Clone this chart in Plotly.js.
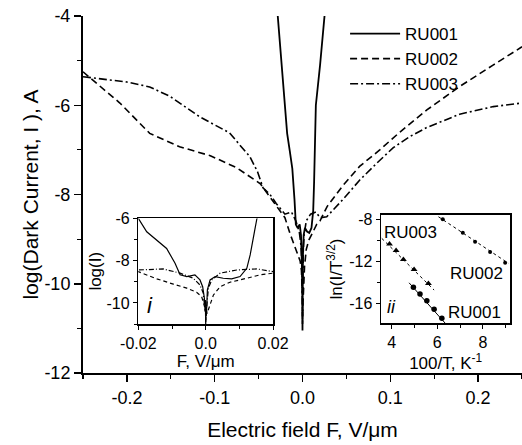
<!DOCTYPE html>
<html>
<head>
<meta charset="utf-8">
<script src="https://cdn.plot.ly/plotly-3.0.1.min.js"></script>
<style>html,body{margin:0;padding:0;background:#fff;}#chart{width:522px;height:445px;}</style>
</head>
<body>
<div id="chart"></div>
<script>
// ---- Main panel data: log(Dark current) vs electric field F (V/um)
const seriesNames = ["RU001", "RU002", "RU003"];

const F_RU001 = [-0.029, -0.024, -0.020, -0.0175, -0.0145, -0.0116, -0.0091, -0.0076, -0.0056, -0.0032, -0.0017, -0.0009, -0.0004, -0.0002, -0.0001, 0.0, 0.0001, 0.0002, 0.0003, 0.0005, 0.0013, 0.0028, 0.0052, 0.0077, 0.0102, 0.0122, 0.0132, 0.0142, 0.0152, 0.020, 0.026];
const L_RU001 = [-3.8, -5.0, -6.0, -6.63, -7.02, -7.42, -8.12, -8.67, -8.75, -8.67, -8.91, -9.23, -9.77, -10.3, -9.9, -11.05, -10.2, -10.6, -9.9, -9.38, -8.91, -8.75, -8.83, -8.86, -8.75, -8.36, -7.73, -6.94, -6.0, -5.1, -3.8];

const F_RU002 = [-0.25, -0.208, -0.174, -0.140, -0.105, -0.075, -0.048, -0.035, -0.02, -0.0145, -0.0096, -0.0056, -0.0027, -0.0012, -0.0003, -0.0001, 0.0, 0.0002, 0.0004, 0.0013, 0.0023, 0.0043, 0.0072, 0.0122, 0.0161, 0.02, 0.028, 0.046, 0.065, 0.088, 0.111, 0.142, 0.179, 0.217, 0.25];
const L_RU002 = [-5.25, -5.95, -6.63, -6.93, -7.13, -7.4, -7.76, -8.1, -8.52, -8.86, -9.11, -9.30, -9.49, -9.70, -10.2, -9.8, -10.9, -10.3, -10.5, -10.09, -9.62, -9.23, -9.02, -8.83, -8.67, -8.59, -8.27, -7.8, -7.37, -7.0, -6.6, -6.1, -5.58, -5.1, -4.69];

const F_RU003 = [-0.25, -0.2, -0.174, -0.151, -0.117, -0.083, -0.071, -0.06, -0.051, -0.045, -0.037, -0.03, -0.02, -0.0126, -0.0076, -0.0037, -0.0017, -0.0007, -0.0002, -0.0001, 0.0, 0.0001, 0.0003, 0.0008, 0.0018, 0.0043, 0.0092, 0.0152, 0.02, 0.0276, 0.0465, 0.0655, 0.0845, 0.1034, 0.1224, 0.1414, 0.179, 0.2173, 0.25];
const L_RU003 = [-5.36, -5.48, -5.59, -5.8, -6.26, -6.62, -6.9, -7.15, -7.5, -7.85, -8.0, -8.2, -8.44, -8.39, -8.59, -8.83, -9.15, -9.54, -10.4, -9.9, -10.8, -10.1, -10.2, -9.30, -8.91, -8.59, -8.44, -8.39, -8.52, -8.5, -8.1, -7.67, -7.3, -6.95, -6.7, -6.5, -6.2, -6.03, -5.95];

// ---- Inset ii: ln(I/T^3/2) vs 100/T
const invT_RU001 = [4.95, 5.24, 5.54, 5.86, 6.2];
const ln_RU001 = [-14.5, -15.14, -15.78, -16.6, -17.45];
const fitX_RU001 = [4.76, 6.34];
const fitY_RU001 = [-14.07, -17.9];

const invT_RU002 = [6.24, 7.12, 7.66, 8.32, 8.98];
const ln_RU002 = [-8.03, -9.3, -10.16, -11.14, -12.16];
const fitX_RU002 = [6.05, 9.13];
const fitY_RU002 = [-7.78, -12.22];

const invT_RU003 = [3.9, 4.19, 4.51, 4.98, 5.61];
const ln_RU003 = [-10.38, -11.0, -11.84, -12.8, -14.13];
const fitX_RU003 = [3.56, 5.86];
const fitY_RU003 = [-9.84, -14.76];

// ---- Tick labels
const mainXTicks = [-0.2, -0.1, 0.0, 0.1, 0.2];
const mainXText = ["-0.2", "-0.1", "0.0", "0.1", "0.2"];
const mainYTicks = [-12, -10, -8, -6, -4];
const mainYText = ["-12", "-10", "-8", "-6", "-4"];
const insetIXTicks = [-0.02, 0.0, 0.02];
const insetIXText = ["-0.02", "0.0", "0.02"];
const insetIYTicks = [-10, -8, -6];
const insetIYText = ["-10", "-8", "-6"];
const insetIIXTicks = [4, 6, 8];
const insetIIXText = ["4", "6", "8"];
const insetIIYTicks = [-16, -12, -8];
const insetIIYText = ["-16", "-12", "-8"];

const FONT = "Liberation Sans, Arial, Helvetica, sans-serif";
const K = "#000";

const styles = [
  {color: K, width: 1.8, dash: "solid"},
  {color: K, width: 1.6, dash: "7px,4px"},
  {color: K, width: 1.6, dash: "8px,3px,2px,3px"}
];
const mainF = [F_RU001, F_RU002, F_RU003];
const mainL = [L_RU001, L_RU002, L_RU003];

const traces = [];
for (let i = 0; i < 3; i++) {
  traces.push({x: mainF[i], y: mainL[i], type: "scatter", mode: "lines", name: seriesNames[i],
    line: Object.assign({}, styles[i]), xaxis: "x", yaxis: "y", showlegend: true});
}
for (let i = 0; i < 3; i++) {
  traces.push({x: mainF[i], y: mainL[i], type: "scatter", mode: "lines", name: seriesNames[i],
    line: {color: K, width: 1.2, dash: styles[i].dash === "solid" ? "solid" : (i === 1 ? "4px,3px" : "5px,2px,1px,2px")},
    xaxis: "x2", yaxis: "y2", showlegend: false});
}
// inset ii
traces.push({x: fitX_RU001, y: fitY_RU001, mode: "lines", line: {color: K, width: 1}, xaxis: "x3", yaxis: "y3", showlegend: false});
traces.push({x: fitX_RU002, y: fitY_RU002, mode: "lines", line: {color: K, width: 1, dash: "dot"}, xaxis: "x3", yaxis: "y3", showlegend: false});
traces.push({x: fitX_RU003, y: fitY_RU003, mode: "lines", line: {color: K, width: 1, dash: "dot"}, xaxis: "x3", yaxis: "y3", showlegend: false});
traces.push({x: invT_RU001, y: ln_RU001, mode: "markers", marker: {symbol: "circle", size: 5.5, color: K}, xaxis: "x3", yaxis: "y3", showlegend: false});
traces.push({x: invT_RU002, y: ln_RU002, mode: "markers", marker: {symbol: "circle", size: 4, color: K}, xaxis: "x3", yaxis: "y3", showlegend: false});
traces.push({x: invT_RU003, y: ln_RU003, mode: "markers", marker: {symbol: "triangle-up", size: 6, color: K}, xaxis: "x3", yaxis: "y3", showlegend: false});

function axisBase(extra) {
  return Object.assign({
    showgrid: false, zeroline: false, showline: true, linecolor: K, ticks: "outside",
    tickcolor: K, tickfont: {family: FONT, size: 16, color: K}, tickmode: "array"
  }, extra);
}

const layout = {
  width: 522, height: 445,
  margin: {l: 83, r: 0, t: 16, b: 72},
  paper_bgcolor: "#fff", plot_bgcolor: "#fff",
  font: {family: FONT, color: K},
  showlegend: true,
  legend: {x: 0.597, y: 1.0, xanchor: "left", yanchor: "top", bgcolor: "rgba(0,0,0,0)",
    font: {family: FONT, size: 17, color: K}, itemwidth: 50, tracegroupgap: 0},
  xaxis: axisBase({domain: [0, 1], range: [-0.25, 0.25], linewidth: 2, tickwidth: 1.5, ticklen: 7,
    tickvals: mainXTicks, ticktext: mainXText, tickfont: {family: FONT, size: 18, color: K},
    minor: {ticks: "outside", tickmode: "array", tickvals: [-0.25, -0.15, -0.05, 0.05, 0.15, 0.25], ticklen: 4, tickwidth: 1.2, tickcolor: K},
    mirror: false, anchor: "y",
    title: {text: "Electric field F, V/\u03bcm", font: {family: FONT, size: 21, color: K}, standoff: 16}}),
  yaxis: axisBase({domain: [0, 1], range: [-12, -4], linewidth: 2, tickwidth: 1.5, ticklen: 7,
    tickvals: mainYTicks, ticktext: mainYText, tickfont: {family: FONT, size: 18, color: K},
    minor: {ticks: "outside", tickmode: "array", tickvals: [-11, -9, -7, -5], ticklen: 4, tickwidth: 1.2, tickcolor: K},
    anchor: "x",
    title: {text: "log(Dark Current, I ), A", font: {family: FONT, size: 21, color: K}, standoff: 0}}),
  xaxis2: axisBase({domain: [0.126, 0.433], range: [-0.02, 0.02], linewidth: 1.5, tickwidth: 1, ticklen: 4,
    tickvals: insetIXTicks, ticktext: insetIXText, mirror: true, anchor: "y2",
    minor: {ticks: "outside", tickmode: "array", tickvals: [-0.01, 0.01], ticklen: 3, tickwidth: 1, tickcolor: K},
    title: {text: "F, V/\u03bcm", font: {family: FONT, size: 17, color: K}, standoff: 2}}),
  yaxis2: axisBase({domain: [0.137, 0.433], range: [-11, -6], linewidth: 1.5, tickwidth: 1, ticklen: 4,
    tickvals: insetIYTicks, ticktext: insetIYText, mirror: true, anchor: "x2",
    minor: {ticks: "outside", tickmode: "array", tickvals: [-11, -9, -7], ticklen: 3, tickwidth: 1, tickcolor: K},
    title: {text: "log(I)", font: {family: FONT, size: 17, color: K}, standoff: 0}}),
  xaxis3: axisBase({domain: [0.679, 0.973], range: [3.53, 9.2], linewidth: 1.5, tickwidth: 1, ticklen: 4,
    tickvals: insetIIXTicks, ticktext: insetIIXText, mirror: true, anchor: "y3",
    minor: {ticks: "outside", tickmode: "array", tickvals: [5, 7, 9], ticklen: 3, tickwidth: 1, tickcolor: K},
    title: {text: "100/T, K<sup>-1</sup>", font: {family: FONT, size: 17, color: K}, standoff: 2}}),
  yaxis3: axisBase({domain: [0.14, 0.443], range: [-17.9, -7.6], linewidth: 1.5, tickwidth: 1, ticklen: 4,
    tickvals: insetIIYTicks, ticktext: insetIIYText, mirror: true, anchor: "x3",
    minor: {ticks: "outside", tickmode: "array", tickvals: [-14, -10], ticklen: 3, tickwidth: 1, tickcolor: K},
    title: {text: "ln(I/T<sup>3/2</sup>)", font: {family: FONT, size: 17, color: K}, standoff: 2}}),
  annotations: [
    {xref: "x2", yref: "y2", x: -0.0165, y: -10.1, text: "<i>i</i>", showarrow: false, font: {family: FONT, size: 22, color: K}},
    {xref: "x3", yref: "y3", x: 4.0, y: -16.4, text: "<i>ii</i>", showarrow: false, font: {family: FONT, size: 18, color: K}},
    {xref: "x3", yref: "y3", x: 3.58, y: -9.3, xanchor: "left", text: "RU003", showarrow: false, font: {family: FONT, size: 17, color: K}},
    {xref: "x3", yref: "y3", x: 6.47, y: -13.14, xanchor: "left", text: "RU002", showarrow: false, font: {family: FONT, size: 17, color: K}},
    {xref: "x3", yref: "y3", x: 6.39, y: -16.86, xanchor: "left", text: "RU001", showarrow: false, font: {family: FONT, size: 17, color: K}}
  ]
};

Plotly.newPlot("chart", traces, layout, {staticPlot: true, displayModeBar: false});
</script>
</body>
</html>
